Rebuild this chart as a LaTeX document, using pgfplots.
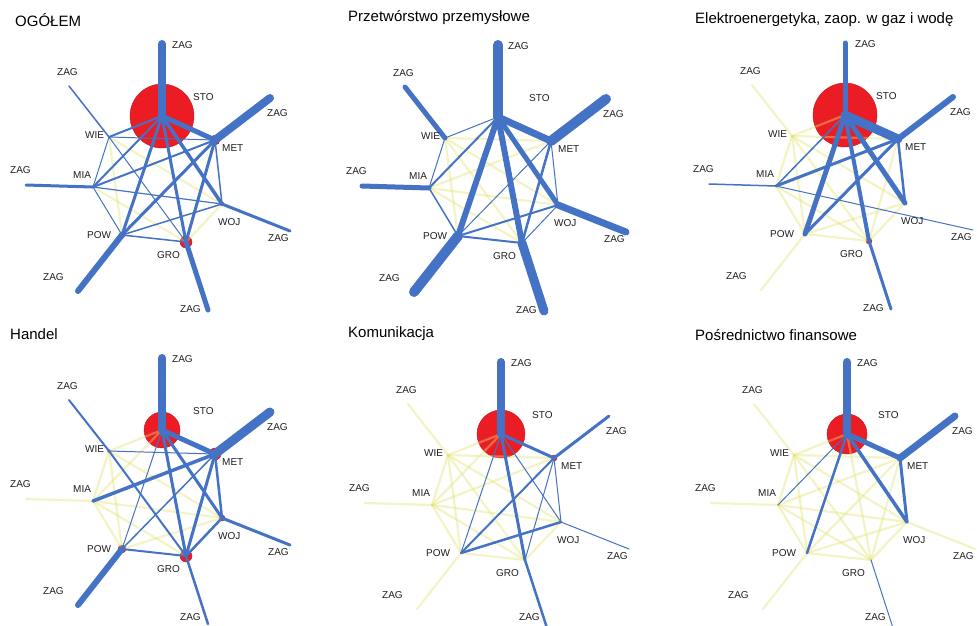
\documentclass[border=0pt]{standalone}
\usepackage{pgfplots}
\pgfplotsset{compat=1.18}
\usepackage{fontspec}
\setmainfont{Liberation Sans}
\definecolor{eb}{RGB}{68,114,196}
\definecolor{ey}{RGB}{226,226,110}
\definecolor{nr}{RGB}{236,28,36}
\definecolor{lb}{RGB}{30,30,30}

% common node layout (pixels, relative to STO, y downward)
\def\NSTO{0,0}
\def\NMET{53,24}
\def\NWOJ{60,88}
\def\NGRO{24,126}
\def\NPOW{-40,119}
\def\NMIA{-69,71}
\def\NWIE{-53,21}
\def\NZS{0,-72}
\def\NZM{108,-18}
\def\NZW{128,115}
\def\NZG{46,194}
\def\NZP{-84,175}
\def\NZMI{-136,69}
\def\NZWI{-93,-30}

% strong link (blue, width = value)
\newcommand\B[3]{\edef\tmp{\noexpand\addplot[eb,line width=#3pt,line cap=round] coordinates {(\csname N#1\endcsname) (\csname N#2\endcsname)};}\tmp}
% weak link (pale yellow)
\newcommand\Y[2]{\edef\tmp{\noexpand\addplot[ey,line width=2.2pt,opacity=0.4,line cap=round] coordinates {(\csname N#1\endcsname) (\csname N#2\endcsname)};}\tmp}
% node size (red circle, radius = value)
\newcommand\R[2]{\edef\tmp{\noexpand\addplot[only marks,mark=*,mark size=#2pt,mark options={fill=nr,draw=nr!85!black,line width=0.4pt}] coordinates {(\csname N#1\endcsname)};}\tmp}

\newcommand\LB[3]{\node[anchor=west,inner sep=0pt,text=lb,font=\fontsize{10}{12}\selectfont] at (axis cs:#1,#2) {#3};}
\newcommand\Labels[1]{%
\LB{10}{-71}{ZAG}\LB{31}{-19}{STO}\LB{105}{-3}{ZAG}\LB{60}{32}{MET}%
\LB{56}{106}{WOJ}\LB{106}{122}{ZAG}\LB{-5}{139}{GRO}\LB{18}{#1}{ZAG}%
\LB{-75}{119}{POW}\LB{-119}{161}{ZAG}\LB{-89}{59}{MIA}\LB{-152}{54}{ZAG}%
\LB{-77}{19}{WIE}\LB{-105}{-44}{ZAG}}

\pgfplotsset{panel/.style={x=1pt,y=1pt,y dir=reverse,xmin=-160,xmax=160,ymin=-110,ymax=200,
  hide axis,clip=false,clip marker paths=true,anchor=origin}}

\begin{document}
\begin{tikzpicture}
\useasboundingbox (0,0) rectangle (977pt,-625pt);
\tikzset{ttl/.style={anchor=west,inner sep=0pt,text=black,font=\fontsize{15}{18}\selectfont}}
\node[ttl] at (15pt,-20pt) {OGÓŁEM};
\node[ttl] at (348pt,-18pt) {Przetwórstwo przemysłowe};
\node[ttl] at (695pt,-20pt) {Elektroenergetyka, zaop. w gaz i wodę};
\node[ttl] at (10pt,-334pt) {Handel};
\node[ttl] at (348pt,-334pt) {Komunikacja};
\node[ttl] at (695pt,-335pt) {Pośrednictwo finansowe};

% ---------------- OGÓŁEM
\begin{axis}[panel,at={(162pt,-116pt)}]
\R{STO}{32}\R{MET}{5}\R{GRO}{6}\R{POW}{3}\R{WOJ}{2}
\Y{WOJ}{GRO}\Y{WOJ}{WIE}\Y{GRO}{MIA}\Y{POW}{WIE}
\B{WIE}{ZWI}{1.5}\B{GRO}{WIE}{1}\B{POW}{MIA}{1}\B{MIA}{WIE}{1}\B{MET}{WIE}{1}
\B{WOJ}{MIA}{1.2}\B{WOJ}{POW}{1.5}\B{GRO}{POW}{1.5}\B{MET}{WOJ}{1.5}
\B{MET}{MIA}{2}\B{STO}{MIA}{2}\B{STO}{WIE}{2}
\B{MET}{GRO}{3}\B{MET}{POW}{3}\B{STO}{GRO}{3}\B{STO}{POW}{3}\B{STO}{WOJ}{3.5}
\B{WOJ}{ZW}{3}\B{MIA}{ZMI}{3}\B{GRO}{ZG}{5}\B{POW}{ZP}{6}
\B{STO}{MET}{5}\B{STO}{ZS}{8}\B{MET}{ZM}{8}
\Labels{193}
\end{axis}

% ---------------- Przetworstwo przemyslowe
\begin{axis}[panel,at={(498pt,-117pt)}]
\R{STO}{3}
\Y{MET}{MIA}\Y{MET}{WIE}\Y{WOJ}{MIA}\Y{WOJ}{WIE}\Y{GRO}{MIA}\Y{GRO}{WIE}\Y{POW}{WIE}
\B{STO}{WIE}{1}\B{MET}{WOJ}{1}\B{MET}{POW}{1}\B{WOJ}{GRO}{1}\B{MIA}{WIE}{1}
\B{POW}{MIA}{1.5}\B{STO}{MIA}{2}\B{WOJ}{POW}{2}\B{GRO}{POW}{2}\B{MET}{GRO}{2.5}
\B{MIA}{ZMI}{5}\B{WIE}{ZWI}{5}\B{STO}{WOJ}{5}\B{STO}{GRO}{6}\B{STO}{POW}{6}
\B{STO}{MET}{7}\B{WOJ}{ZW}{7}\B{GRO}{ZG}{9}
\B{STO}{ZS}{10}\B{MET}{ZM}{10}\B{POW}{ZP}{10}
\Labels{193}
\end{axis}

% ---------------- Elektroenergetyka
\begin{axis}[panel,at={(845pt,-115pt)}]
\R{STO}{32}\R{GRO}{3}
\Y{POW}{ZP}\Y{WIE}{ZWI}\Y{STO}{WIE}\Y{MET}{GRO}\Y{MET}{WIE}\Y{WOJ}{GRO}\Y{WOJ}{POW}
\Y{WOJ}{WIE}\Y{GRO}{POW}\Y{GRO}{MIA}\Y{GRO}{WIE}\Y{POW}{MIA}\Y{POW}{WIE}\Y{MIA}{WIE}
\B{MIA}{ZW}{1}\B{MIA}{ZMI}{1.5}\B{STO}{MIA}{1.5}
\B{MET}{WOJ}{2.5}\B{GRO}{ZG}{3}\B{MET}{MIA}{3}\B{MET}{POW}{3}
\B{STO}{GRO}{4}\B{STO}{WOJ}{5}\B{STO}{POW}{5}\B{STO}{ZS}{5}\B{MET}{ZM}{6}
\B{STO}{MET}{9}
\Labels{193}
\end{axis}

% ---------------- Handel
\begin{axis}[panel,at={(162pt,-430pt)}]
\R{STO}{18}\R{MET}{6}\R{GRO}{6}\R{POW}{4}\R{WOJ}{3}\R{WIE}{1.5}
\Y{MIA}{ZMI}\Y{STO}{MIA}\Y{STO}{WIE}\Y{WOJ}{POW}\Y{WOJ}{MIA}\Y{WOJ}{WIE}
\Y{GRO}{MIA}\Y{POW}{MIA}\Y{POW}{WIE}\Y{MIA}{WIE}
\B{STO}{POW}{1}\B{MET}{WIE}{1}\B{MET}{POW}{1.5}
\B{WIE}{ZWI}{2}\B{GRO}{WIE}{2}\B{GRO}{POW}{2}
\B{GRO}{ZG}{2.5}\B{MET}{WOJ}{2.5}\B{WOJ}{GRO}{2.5}
\B{STO}{WOJ}{3}\B{STO}{GRO}{3}\B{MET}{GRO}{3}\B{WOJ}{ZW}{3}\B{MET}{MIA}{3.5}
\B{STO}{MET}{5}\B{POW}{ZP}{6}\B{STO}{ZS}{8}\B{MET}{ZM}{9}
\Labels{187}
\end{axis}

% ---------------- Komunikacja
\begin{axis}[panel,at={(501pt,-434pt)}]
\R{STO}{24}\R{MET}{3}
\Y{POW}{ZP}\Y{MIA}{ZMI}\Y{WIE}{ZWI}\Y{STO}{MIA}\Y{STO}{WIE}\Y{MET}{MIA}\Y{MET}{WIE}
\Y{WOJ}{GRO}\Y{WOJ}{MIA}\Y{WOJ}{WIE}\Y{GRO}{POW}\Y{GRO}{MIA}\Y{GRO}{WIE}
\Y{POW}{MIA}\Y{POW}{WIE}\Y{MIA}{WIE}
\B{WOJ}{ZW}{1}\B{STO}{POW}{1}\B{STO}{WOJ}{1}\B{MET}{GRO}{1}\B{MET}{WOJ}{1}
\B{MET}{POW}{2}\B{WOJ}{POW}{2.5}\B{GRO}{ZG}{2.5}
\B{STO}{MET}{3}\B{STO}{GRO}{3}\B{MET}{ZM}{3}\B{STO}{ZS}{8}
\Labels{183}
\end{axis}

% ---------------- Posrednictwo finansowe
\begin{axis}[panel,at={(847pt,-434pt)}]
\R{STO}{20}
\Y{WOJ}{ZW}\Y{POW}{ZP}\Y{MIA}{ZMI}\Y{WIE}{ZWI}\Y{STO}{GRO}\Y{STO}{WIE}
\Y{MET}{GRO}\Y{MET}{POW}\Y{MET}{MIA}\Y{MET}{WIE}\Y{WOJ}{GRO}\Y{WOJ}{POW}
\Y{WOJ}{MIA}\Y{WOJ}{WIE}\Y{GRO}{POW}\Y{GRO}{MIA}\Y{GRO}{WIE}\Y{POW}{MIA}
\Y{POW}{WIE}\Y{MIA}{WIE}
\B{GRO}{ZG}{1}\B{STO}{MIA}{1}\B{STO}{POW}{2.5}\B{MET}{WOJ}{3}\B{STO}{WOJ}{3.5}
\B{STO}{MET}{5}\B{MET}{ZM}{7}\B{STO}{ZS}{8}
\Labels{183}
\end{axis}
\end{tikzpicture}
\end{document}
